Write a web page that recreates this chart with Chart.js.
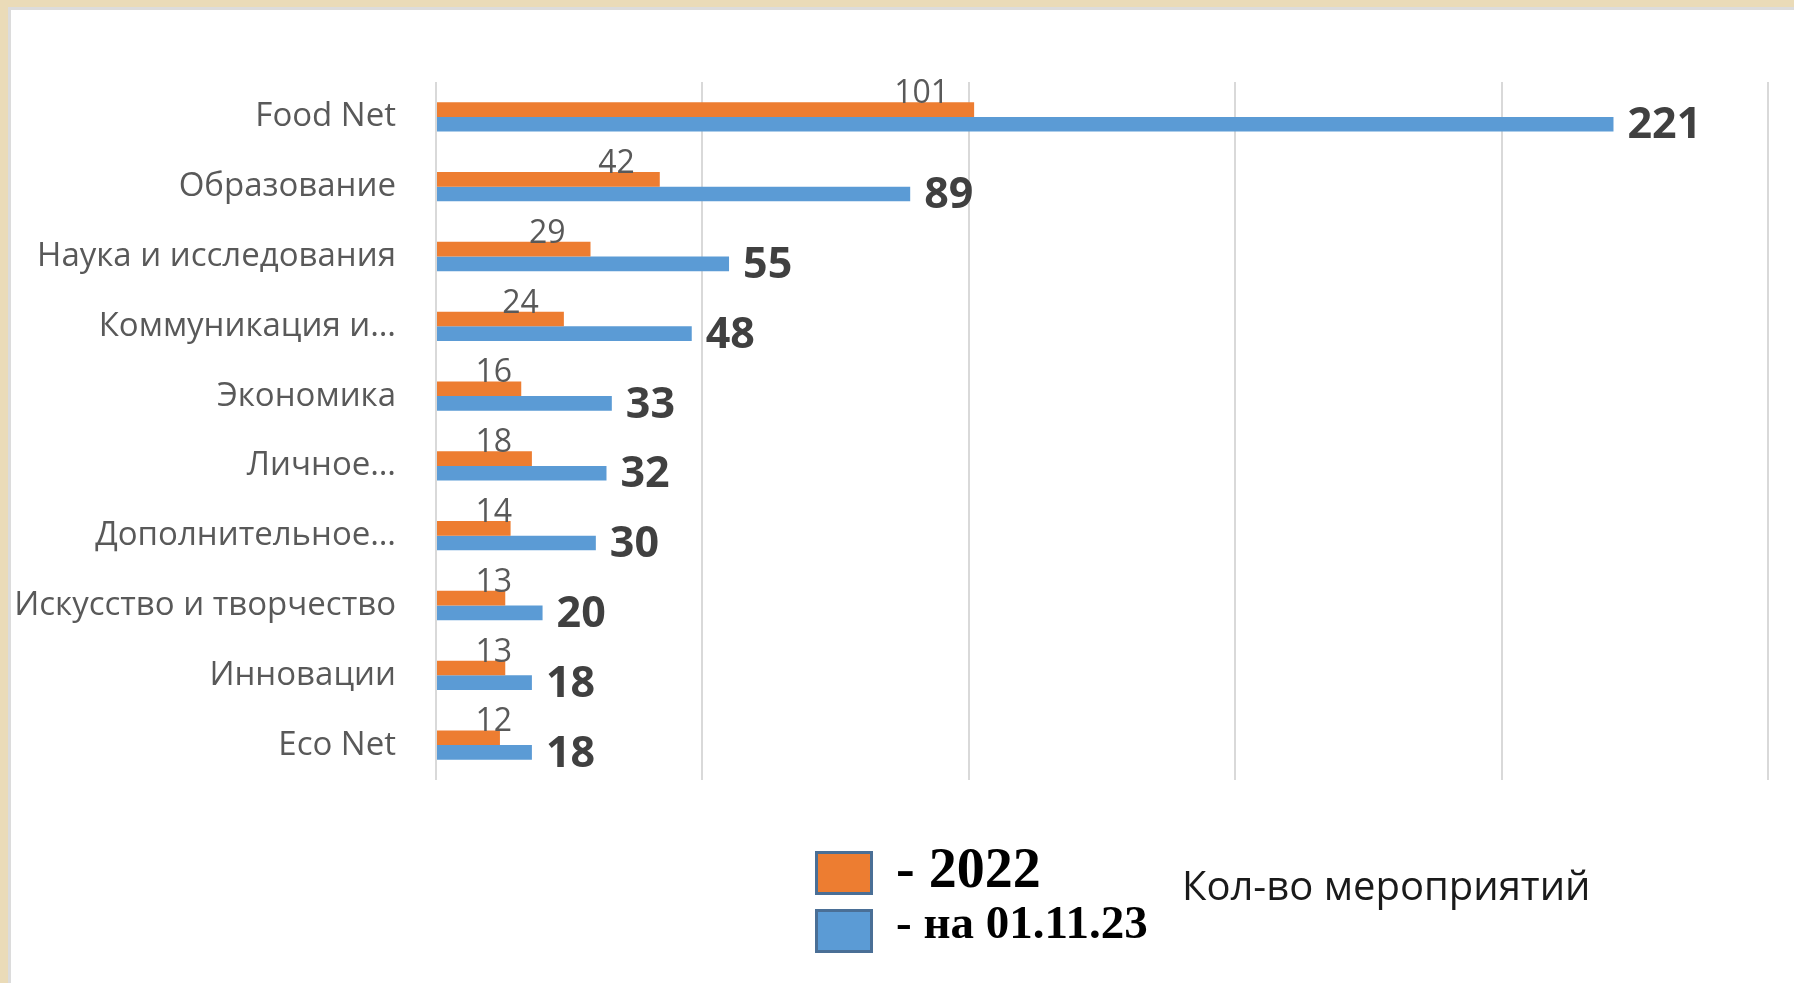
<!DOCTYPE html>
<html>
<head>
<meta charset="utf-8">
<script src="https://cdn.jsdelivr.net/npm/chart.js@4.4.0/dist/chart.umd.min.js"></script>
<style>
  html, body { margin: 0; padding: 0; }
  body { width: 1794px; height: 983px; background: #eadbb8; position: relative; overflow: hidden; }
  #panel { position: absolute; left: 8px; top: 7px; right: 0; bottom: 0; background: #fff;
           border-left: 3px solid #dcdcdc; border-top: 3px solid #dcdcdc; }
  #wrap { position: absolute; left: 0; top: 0; width: 1794px; height: 983px; }
  .sq { position: absolute; left: 815px; width: 52px; height: 38px; border: 3px solid #4a6f96; }
  .lg { position: absolute; left: 896px; font-family: "Liberation Serif", serif; font-weight: bold;
        color: #000; line-height: 1; white-space: nowrap; }
  #ttl { position: absolute; left: 1182px; top: 865px; font-family: "Open Sans", sans-serif;
         font-size: 40px; line-height: 1; color: #1a1a1a; white-space: nowrap; }
</style>
</head>
<body>
<div id="panel"></div>
<div id="wrap"><canvas id="chart" width="1794" height="983"></canvas></div>
<div class="sq" style="top:851px;background:#ed7d31;"></div>
<div class="sq" style="top:909px;background:#5b9bd5;"></div>
<div class="lg" style="top:840px;font-size:56px;">- 2022</div>
<div class="lg" style="top:899px;font-size:47px;">- на 01.11.23</div>
<div id="ttl">Кол-во мероприятий</div>
<script>
const categories = ['Food Net', 'Образование', 'Наука и исследования', 'Коммуникация и…', 'Экономика',
  'Личное…', 'Дополнительное…', 'Искусство и творчество', 'Инновации', 'Eco Net'];
const values2022 = [101, 42, 29, 24, 16, 18, 14, 13, 13, 12];
const values2023 = [221, 89, 55, 48, 33, 32, 30, 20, 18, 18];
const axisTicks = [0, 50, 100, 150, 200, 250];

// value labels: 2022 above the orange bar, 2023 bold to the right of the blue bar
const valueLabels = {
  id: 'valueLabels',
  afterDatasetsDraw(chart) {
    const ctx = chart.ctx;
    const x0 = chart.scales.x.getPixelForValue(0);
    ctx.save();
    chart.getDatasetMeta(0).data.forEach((bar, i) => {
      const top = bar.y - bar.height / 2;
      ctx.font = '32px "Open Sans"';
      ctx.fillStyle = '#595959';
      ctx.textAlign = 'right';
      ctx.textBaseline = 'alphabetic';
      ctx.fillText(values2022[i], Math.max(bar.x - 25, x0 + 76), top + 1);
    });
    chart.getDatasetMeta(1).data.forEach((bar, i) => {
      ctx.font = 'bold 43px "Open Sans"';
      ctx.fillStyle = '#404040';
      ctx.textAlign = 'left';
      ctx.textBaseline = 'middle';
      ctx.fillText(values2023[i], bar.x + 14, bar.y + 2);
    });
    ctx.restore();
  }
};

new Chart(document.getElementById('chart'), {
  type: 'bar',
  data: {
    labels: categories,
    datasets: [
      { label: '2022', data: values2022, backgroundColor: '#ed7d31', borderWidth: 0 },
      { label: 'на 01.11.23', data: values2023, backgroundColor: '#5b9bd5', borderWidth: 0 }
    ]
  },
  options: {
    indexAxis: 'y',
    responsive: false,
    animation: false,
    events: [],
    layout: { padding: { top: 82, right: 26, bottom: 203, left: 0 } },
    datasets: { bar: { categoryPercentage: 0.42, barPercentage: 1 } },
    plugins: { legend: { display: false }, tooltip: { enabled: false } },
    scales: {
      x: {
        min: 0,
        max: 250,
        afterBuildTicks: (s) => { s.ticks = axisTicks.map(v => ({ value: v })); },
        afterFit: (s) => { s.height = 0; },
        ticks: { display: false },
        border: { display: false },
        grid: { color: '#d9d9d9', lineWidth: 2, drawTicks: false }
      },
      y: {
        afterFit: (s) => { s.width = 436; },
        border: { display: false },
        grid: { display: false, drawTicks: false },
        ticks: { color: '#595959', padding: 40, font: { family: 'Open Sans', size: 33 } }
      }
    }
  },
  plugins: [valueLabels]
});
</script>
</body>
</html>
